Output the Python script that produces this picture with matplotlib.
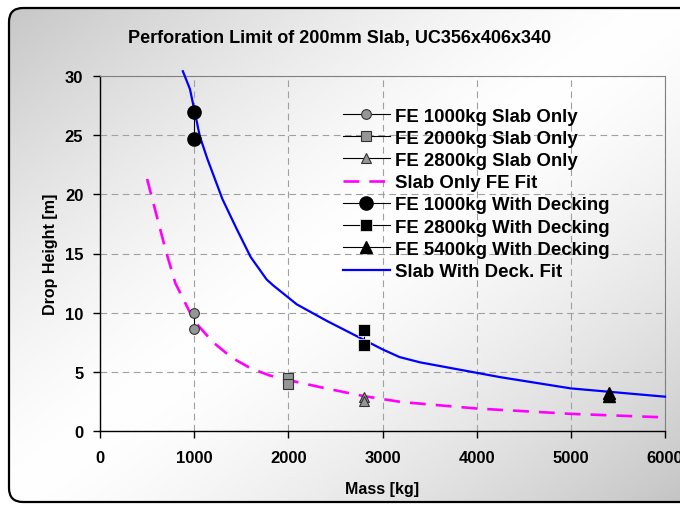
import numpy as np
import matplotlib
matplotlib.use("Agg")
import matplotlib.pyplot as plt
from matplotlib.patches import FancyBboxPatch

plt.rcParams['font.family'] = ['Liberation Sans', 'DejaVu Sans']
plt.rcParams['font.weight'] = 'bold'

# ---- data ----
title = "Perforation Limit of 200mm Slab, UC356x406x340"
xlabel = "Mass [kg]"
ylabel = "Drop Height [m]"

fe1000_slab_x = [1000, 1000]
fe1000_slab_y = [10.0, 8.6]
fe2000_slab_x = [2000, 2000]
fe2000_slab_y = [4.5, 4.0]
fe2800_slab_x = [2800, 2800]
fe2800_slab_y = [2.9, 2.5]

slab_fit_x = [500, 700, 800, 1000, 1200, 1400, 1600, 1800, 2000, 2400, 2800, 3200, 4000, 5000, 6000]
slab_fit_y = [21.3, 15.2, 12.5, 9.3, 7.5, 6.2, 5.3, 4.7, 4.3, 3.6, 2.95, 2.45, 1.9, 1.45, 1.15]

fe1000_deck_x = [1000, 1000]
fe1000_deck_y = [27.0, 24.7]
fe2800_deck_x = [2800, 2800]
fe2800_deck_y = [8.5, 7.3]
fe5400_deck_x = [5400, 5400]
fe5400_deck_y = [3.2, 3.0]

deck_fit_x = [880, 955, 1000, 1060, 1140, 1300, 1450, 1600, 1770, 1840, 2090, 2410, 2730, 3000, 3180, 3400, 4250, 5000, 6000]
deck_fit_y = [30.4, 28.9, 27.2, 24.9, 23.0, 19.6, 17.1, 14.7, 12.8, 12.3, 10.7, 9.3, 8.0, 6.9, 6.25, 5.8, 4.55, 3.6, 2.9]

xticks = [0, 1000, 2000, 3000, 4000, 5000, 6000]
yticks = [0, 5, 10, 15, 20, 25, 30]

# ---- figure ----
W, H = 680, 506
fig = plt.figure(figsize=(W / 100, H / 100), dpi=100)
fig.patch.set_facecolor('white')

# gradient background inside a rounded border
bg = fig.add_axes([0, 0, 1, 1], zorder=-10)
bg.set_xlim(0, W)
bg.set_ylim(H, 0)
bg.axis('off')
xx, yy = np.meshgrid(np.linspace(0, 1, W), np.linspace(0, 1, H))
t = (xx + yy) / 2.0
val = 1.0 - 0.23 * np.abs(2 * t - 1) ** 1.4
img = np.dstack([val, val, val])
frame = FancyBboxPatch((9, 9), W + 20, H - 12, boxstyle="round,pad=0,rounding_size=14",
                       facecolor='none', edgecolor='black', linewidth=1.6,
                       transform=bg.transData, clip_on=False, zorder=3)
bg.add_patch(frame)
im = bg.imshow(img, extent=[0, W, H, 0], aspect='auto', interpolation='bilinear', zorder=1)
im.set_clip_path(frame)

ax = fig.add_axes([100 / W, 1 - 432 / H, 565 / W, 355 / H])
ax.set_facecolor('none')

gray = '#969696'
ax.plot(fe1000_slab_x, fe1000_slab_y, color='black', lw=0.8, marker='o', ms=7,
        mfc=gray, mec='#333333', mew=0.8, label='FE 1000kg Slab Only', zorder=5)
ax.plot(fe2000_slab_x, fe2000_slab_y, color='black', lw=0.8, marker='s', ms=7,
        mfc=gray, mec='#333333', mew=0.8, label='FE 2000kg Slab Only', zorder=5)
ax.plot(fe2800_slab_x, fe2800_slab_y, color='black', lw=0.8, marker='^', ms=7,
        mfc=gray, mec='#333333', mew=0.8, label='FE 2800kg Slab Only', zorder=5)
ax.plot(slab_fit_x, slab_fit_y, color='#ff00ff', lw=1.9, dashes=(6, 3.8),
        label='Slab Only FE Fit', zorder=4)
ax.plot(fe1000_deck_x, fe1000_deck_y, color='black', lw=0.8, marker='o', ms=9.5,
        mfc='black', mec='black', label='FE 1000kg With Decking', zorder=5)
ax.plot(fe2800_deck_x, fe2800_deck_y, color='black', lw=0.8, marker='s', ms=9,
        mfc='black', mec='white', mew=0.5, label='FE 2800kg With Decking', zorder=5)
ax.plot(fe5400_deck_x, fe5400_deck_y, color='black', lw=0.8, marker='^', ms=8,
        mfc='black', mec='black', label='FE 5400kg With Decking', zorder=5)
ax.plot(deck_fit_x, deck_fit_y, color='#0000ff', lw=1.6, label='Slab With Deck. Fit',
        zorder=4, clip_on=False)

ax.set_xlim(0, 6000)
ax.set_ylim(0, 30)
ax.set_xticks(xticks)
ax.set_yticks(yticks)
ax.set_xticklabels([str(v) for v in xticks], fontsize=12, fontweight='bold')
ax.set_yticklabels([str(v) for v in yticks], fontsize=12, fontweight='bold')
ax.tick_params(axis='x', direction='out', length=5, width=1, pad=9)
ax.tick_params(axis='y', direction='out', length=5, width=1, pad=7)
ax.grid(True, color='#a0a0a0', linestyle=(0, (6, 4)), linewidth=0.8)
ax.set_axisbelow(True)
for s in ['top', 'right']:
    ax.spines[s].set_color('#808080')
    ax.spines[s].set_linewidth(0.8)
for s in ['left', 'bottom']:
    ax.spines[s].set_color('black')
    ax.spines[s].set_linewidth(1.0)

ax.set_xlabel(xlabel, fontsize=11.5, fontweight='bold')
ax.set_ylabel(ylabel, fontsize=11.5, fontweight='bold')
ax.xaxis.set_label_coords(0.5, (432 - 490) / 355, transform=ax.transAxes)
ax.yaxis.set_label_coords((50 - 100) / 565, 0.5, transform=ax.transAxes)
ax.xaxis.label.set_va('center')
ax.yaxis.label.set_va('center')

fig.text(0.5, 1 - 38 / H, title, ha='center', va='center', fontsize=13, fontweight='bold')

leg = ax.legend(loc='upper left', bbox_to_anchor=(343 / W, 1 - 108.5 / H),
                bbox_transform=fig.transFigure, frameon=False, fontsize=13.4,
                handlelength=2.5, handletextpad=0.27, labelspacing=0.28,
                borderaxespad=0, borderpad=0)
for txt in leg.get_texts():
    txt.set_fontweight('bold')

fig.savefig('out.png', dpi=100)
